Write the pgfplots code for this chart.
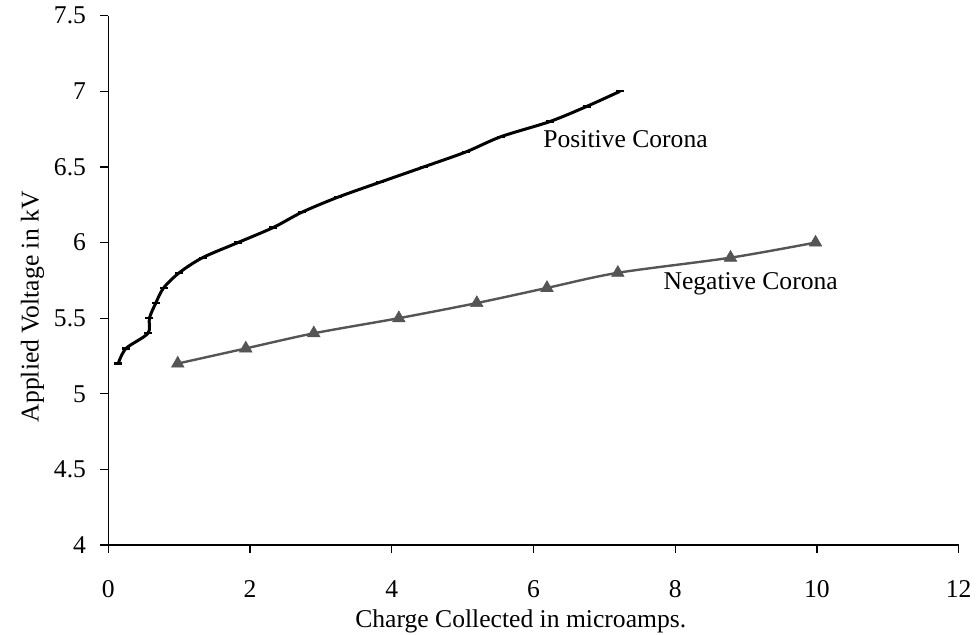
\documentclass[border=0pt]{standalone}
\usepackage{fontspec}
\setmainfont{Liberation Serif}
\usepackage{pgfplots}
\pgfplotsset{compat=1.18}
\definecolor{negc}{HTML}{555555}
\begin{document}
\begin{tikzpicture}
\fontsize{12.8pt}{15pt}\selectfont
\begin{axis}[
  scale only axis,
  width=425.2pt, height=264.65pt,
  xmin=0, xmax=12, ymin=4, ymax=7.5,
  axis lines=left,
  axis line style={-, line width=0.6pt, black},
  xtick={0,2,...,12},
  ytick={4,4.5,...,7.5},
  tick align=outside,
  major tick length=4pt,
  tick style={line width=0.6pt, black},
  /pgf/number format/assume math mode=true,
  tick label style={font=\fontsize{12.8pt}{15pt}\selectfont},
  xticklabel style={anchor=base, yshift=-22pt},
  yticklabel style={xshift=-2.7pt},
  label style={font=\fontsize{12.8pt}{15pt}\selectfont},
  xlabel={Charge Collected in microamps.},
  ylabel={Applied Voltage in kV},
  xlabel style={at={(axis description cs:0.485,-0.155)}, anchor=base},
  ylabel style={at={(axis description cs:-0.089,0.45)}, anchor=center, rotate=0},
  clip=false,
]
\addplot[black, line width=1.5pt, smooth, mark=-, mark size=2pt, mark options={line width=1.1pt}] coordinates {
(0.14,5.2)(0.25,5.3)(0.56,5.4)(0.58,5.5)(0.67,5.6)(0.78,5.7)(1.0,5.8)(1.33,5.9)(1.83,6.0)(2.33,6.1)(2.73,6.2)(3.24,6.3)(3.84,6.4)(4.45,6.5)(5.05,6.6)(5.54,6.7)(6.23,6.8)(6.75,6.9)(7.22,7.0)
};
\addplot[negc, line width=1.2pt, smooth, mark=triangle*, mark size=3.6pt, mark options={fill=negc, draw=negc, line width=0.3pt}] coordinates {
(0.98,5.2)(1.94,5.3)(2.9,5.4)(4.1,5.5)(5.2,5.6)(6.19,5.7)(7.19,5.8)(8.78,5.9)(9.98,6.0)
};
\node[anchor=base west, inner sep=0] at (axis cs:6.134,6.629) {Positive Corona};
\node[anchor=base west, inner sep=0] at (axis cs:7.83,5.689) {Negative Corona};
\end{axis}
\pgfresetboundingbox
\path[use as bounding box] (-54.15pt,-44.5pt) rectangle (434.35pt,272.5pt);
\end{tikzpicture}
\end{document}
